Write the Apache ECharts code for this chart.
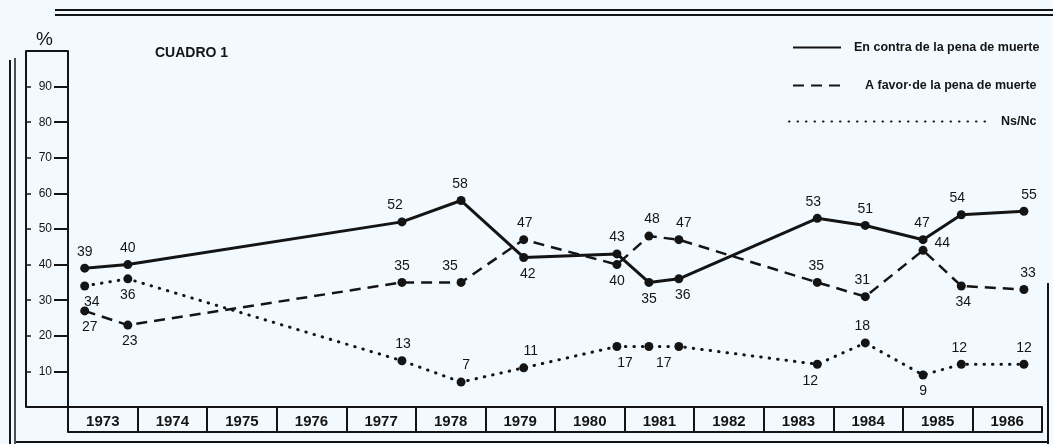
<!DOCTYPE html>
<html>
<head>
<meta charset="utf-8">
<script src="https://cdn.jsdelivr.net/npm/echarts@6/dist/echarts.min.js"></script>
<style>
html,body{margin:0;padding:0;background:#f3faff;}
#c{width:1053px;height:444px;}
</style>
</head>
<body>
<div id="c"></div>
<script>
// ---- data ----
const years = ['1973','1974','1975','1976','1977','1978','1979','1980','1981','1982','1983','1984','1985','1986'];
const surveyDates = [1973.24, 1973.86, 1977.80, 1978.65, 1979.55, 1980.89, 1981.35, 1981.78, 1983.77, 1984.46, 1985.29, 1985.84, 1986.74];
const enContra = [39, 40, 52, 58, 42, 43, 35, 36, 53, 51, 47, 54, 55];
const aFavor   = [27, 23, 35, 35, 47, 40, 48, 47, 35, 31, 44, 34, 33];
const nsNc     = [34, 36, 13, 7, 11, 17, 17, 17, 12, 18, 9, 12, 12];
const seriesNames = ['En contra de la pena de muerte', 'A favor·de la pena de muerte', 'Ns/Nc'];

// ---- label placement (style) ----
const contraPos = ['top','top','top','top','bottom','top','bottom','bottom','top','top','top','top','top'];
const contraOff = [0,0,-7,-1,4,0,0,4,-4,0,-1,-4,5];
const favorPos  = ['bottom','bottom','top','top','top','bottom','top','top','top','top','right','bottom','top'];
const favorOff  = [5,2,0,-11,1,0,3,5,-1,-3,0,2,4];
const nsPos     = ['bottom','bottom','top','top','top','bottom',null,'bottom','bottom','top','bottom','top','top'];
const nsOff     = [7,0,1,5,7,8,0,-15,-7,-3,0,-2,0];

const INK = '#141414';
const FONT = "'Liberation Sans', Arial, sans-serif";

function build(values, pos, off) {
  return values.map((v, i) => {
    const item = { value: [surveyDates[i], v] };
    if (pos[i] === null) {
      item.label = { show: false };
    } else if (pos[i] === 'right') {
      item.label = { position: 'right', offset: [2, -7] };
    } else {
      item.label = { position: pos[i], offset: [off[i], 0] };
    }
    return item;
  });
}

const labelStyle = { show: true, color: INK, fontSize: 14, fontFamily: FONT, distance: 5 };

const chart = echarts.init(document.getElementById('c'), null, { renderer: 'canvas' });

const legendCommon = {
  orient: 'horizontal', selectedMode: false, itemHeight: 14,
  itemStyle: { opacity: 0 },
  textStyle: { color: INK, fontSize: 12.5, fontWeight: 'bold', fontFamily: FONT }
};

chart.setOption({
  backgroundColor: '#f3faff',
  animation: false,
  title: [
    { text: 'CUADRO 1', left: 150, top: 41, textStyle: { color: INK, fontSize: 14, fontWeight: 'bold', fontFamily: FONT } },
    { text: '%', left: 31, top: 25, textStyle: { color: INK, fontSize: 19, fontWeight: 'normal', fontFamily: FONT } }
  ],
  legend: [
    Object.assign({}, legendCommon, { data: [seriesNames[0]], left: 787, top: 36, itemWidth: 48,
      textStyle: Object.assign({}, legendCommon.textStyle, { padding: [0, 0, 0, 8] }) }),
    Object.assign({}, legendCommon, { data: [seriesNames[1]], left: 787, top: 74, itemWidth: 53,
      textStyle: Object.assign({}, legendCommon.textStyle, { padding: [0, 0, 0, 14] }) }),
    Object.assign({}, legendCommon, { data: [seriesNames[2]], left: 783, top: 110, itemWidth: 200,
      textStyle: Object.assign({}, legendCommon.textStyle, { padding: [0, 0, 0, 7] }) })
  ],
  grid: { left: 68, right: 11, top: 51, bottom: 37 },
  xAxis: [
    { type: 'value', min: 1973, max: 1987, show: false },
    { type: 'category', data: years, position: 'bottom', boundaryGap: true,
      axisLine: { show: true, lineStyle: { color: INK, width: 2 } },
      axisTick: { show: true, length: 25, interval: 0, lineStyle: { color: INK, width: 2 } },
      axisLabel: { interval: 0, margin: 7, color: INK, fontSize: 15, fontWeight: 'bold', fontFamily: FONT },
      splitLine: { show: false } },
    { type: 'category', data: years, position: 'bottom', offset: 25,
      axisLine: { show: true, lineStyle: { color: INK, width: 2 } },
      axisTick: { show: false }, axisLabel: { show: false }, splitLine: { show: false } }
  ],
  yAxis: [
    { type: 'value', min: 0, max: 100, interval: 10, position: 'left',
      axisLine: { show: true, lineStyle: { color: INK, width: 2 } },
      axisTick: { show: true, length: 14, lineStyle: { color: INK, width: 2 } },
      axisLabel: { margin: 16, color: INK, fontSize: 12, fontFamily: FONT,
        formatter: v => (v === 0 || v === 100) ? '' : String(v) },
      splitLine: { show: false } },
    { type: 'value', min: 0, max: 100, interval: 10, position: 'left', offset: 42,
      axisLine: { show: true, lineStyle: { color: INK, width: 2 } },
      axisTick: { show: true, inside: true, length: 5, lineStyle: { color: INK, width: 1.5 } },
      axisLabel: { show: false }, splitLine: { show: false } }
  ],
  series: [
    { name: seriesNames[0], type: 'line', xAxisIndex: 0, yAxisIndex: 0,
      data: build(enContra, contraPos, contraOff),
      symbol: 'circle', symbolSize: 9, itemStyle: { color: INK },
      lineStyle: { color: INK, width: 3, type: 'solid' },
      label: labelStyle, z: 3 },
    { name: seriesNames[1], type: 'line', xAxisIndex: 0, yAxisIndex: 0,
      data: build(aFavor, favorPos, favorOff),
      symbol: 'circle', symbolSize: 9, itemStyle: { color: INK },
      lineStyle: { color: INK, width: 2.5, type: [11, 7] },
      label: labelStyle, z: 3 },
    { name: seriesNames[2], type: 'line', xAxisIndex: 0, yAxisIndex: 0,
      data: build(nsNc, nsPos, nsOff),
      symbol: 'circle', symbolSize: 9, itemStyle: { color: INK },
      lineStyle: { color: INK, width: 3, type: [0.5, 8], cap: 'round' },
      label: labelStyle, z: 3 }
  ],
  graphic: [
    { type: 'line', shape: { x1: 55, y1: 10, x2: 1053, y2: 10 }, style: { stroke: INK, lineWidth: 2 } },
    { type: 'line', shape: { x1: 55, y1: 15, x2: 1053, y2: 15 }, style: { stroke: INK, lineWidth: 2 } },
    { type: 'line', shape: { x1: 10, y1: 60, x2: 10, y2: 444 }, style: { stroke: INK, lineWidth: 2 } },
    { type: 'line', shape: { x1: 15, y1: 58, x2: 15, y2: 444 }, style: { stroke: INK, lineWidth: 1.5 } },
    { type: 'line', shape: { x1: 16, y1: 442, x2: 1048, y2: 442 }, style: { stroke: INK, lineWidth: 2 } },
    { type: 'line', shape: { x1: 1048, y1: 283, x2: 1048, y2: 444 }, style: { stroke: INK, lineWidth: 2 } },
    { type: 'line', shape: { x1: 26, y1: 51, x2: 68, y2: 51 }, style: { stroke: INK, lineWidth: 2 } },
    { type: 'line', shape: { x1: 26, y1: 407, x2: 68, y2: 407 }, style: { stroke: INK, lineWidth: 2 } }
  ]
});
</script>
</body>
</html>
